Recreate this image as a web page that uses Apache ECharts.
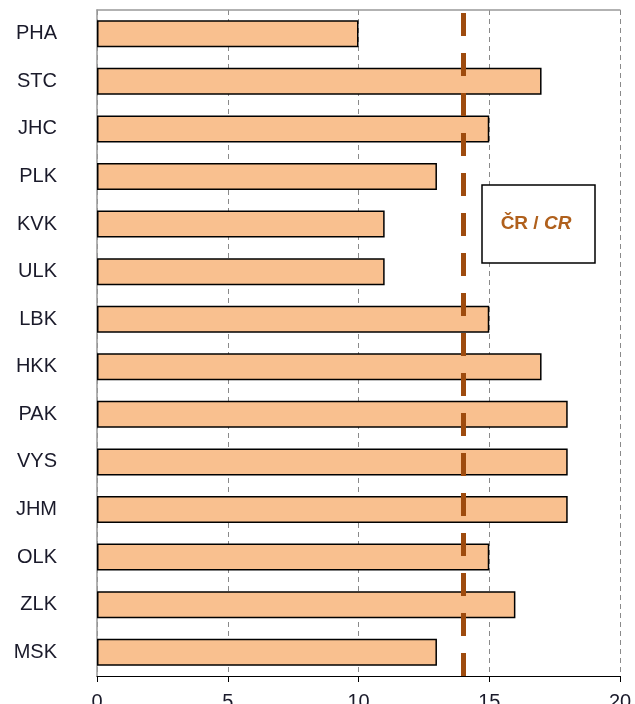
<!DOCTYPE html>
<html>
<head>
<meta charset="utf-8">
<script src="https://cdn.jsdelivr.net/npm/echarts@6/dist/echarts.min.js"></script>
<style>
  html, body { margin: 0; padding: 0; background: #fff; }
  #chart { width: 635px; height: 704px; }
</style>
</head>
<body>
<div id="chart"></div>
<script>
// kraje, shora dolu
const regions = ['PHA', 'STC', 'JHC', 'PLK', 'KVK', 'ULK', 'LBK', 'HKK', 'PAK', 'VYS', 'JHM', 'OLK', 'ZLK', 'MSK']
const values = [10, 17, 15, 13, 11, 11, 15, 17, 18, 18, 18, 15, 16, 13]
const czValue = 14
const xTicks = [0, 5, 10, 15, 20]

const chart = echarts.init(document.getElementById('chart'))
chart.setOption({
  animation: false,
  grid: { left: 97, right: 15, top: 10, bottom: 28, outerBoundsMode: 'none' },
  xAxis: [
    {
      type: 'value',
      min: xTicks[0],
      max: xTicks[xTicks.length - 1],
      interval: 5,
      axisLine: { show: true, lineStyle: { color: '#000', width: 1 } },
      axisTick: { show: true, length: 6, lineStyle: { color: '#000' } },
      axisLabel: { color: '#1a1a2a', fontSize: 20, fontFamily: 'Liberation Sans', margin: 16 },
      splitLine: { show: true, lineStyle: { color: '#8a8a8a', type: [5, 4], width: 1 } }
    },
    {
      type: 'value',
      position: 'top',
      min: 0,
      max: 20,
      axisLine: { show: true, lineStyle: { color: '#999', width: 1.5 } },
      axisTick: { show: false },
      axisLabel: { show: false },
      splitLine: { show: false }
    }
  ],
  yAxis: {
    type: 'category',
    inverse: true,
    data: regions,
    axisLine: { show: true, lineStyle: { color: '#999', width: 1.5 } },
    axisTick: { show: false },
    axisLabel: { color: '#1a1a2a', fontSize: 20, fontFamily: 'Liberation Sans', margin: 40 }
  },
  series: [
    {
      type: 'bar',
      data: values,
      barWidth: 27,
      itemStyle: { color: '#F9C08F', borderColor: '#000', borderWidth: 1.5 },
      markLine: {
        silent: true,
        symbol: 'none',
        label: { show: false },
        lineStyle: { color: '#9E4B0E', width: 5, type: [23, 17], dashOffset: -3 },
        data: [{ xAxis: czValue }]
      }
    }
  ],
  graphic: [
    {
      type: 'rect',
      shape: { x: 482, y: 185, width: 113, height: 78 },
      style: { fill: '#fff', stroke: '#000', lineWidth: 1.5 },
      z: 100
    },
    {
      type: 'text',
      x: 536,
      y: 224,
      z: 101,
      style: {
        text: '{a|ČR / }{b|CR}',
        align: 'center',
        verticalAlign: 'middle',
        rich: {
          a: { fontSize: 19, fontWeight: 'bold', fontFamily: 'Liberation Sans', fill: '#B0601C' },
          b: { fontSize: 19, fontWeight: 'bold', fontStyle: 'italic', fontFamily: 'Liberation Sans', fill: '#B0601C' }
        }
      }
    }
  ]
})
</script>
</body>
</html>
